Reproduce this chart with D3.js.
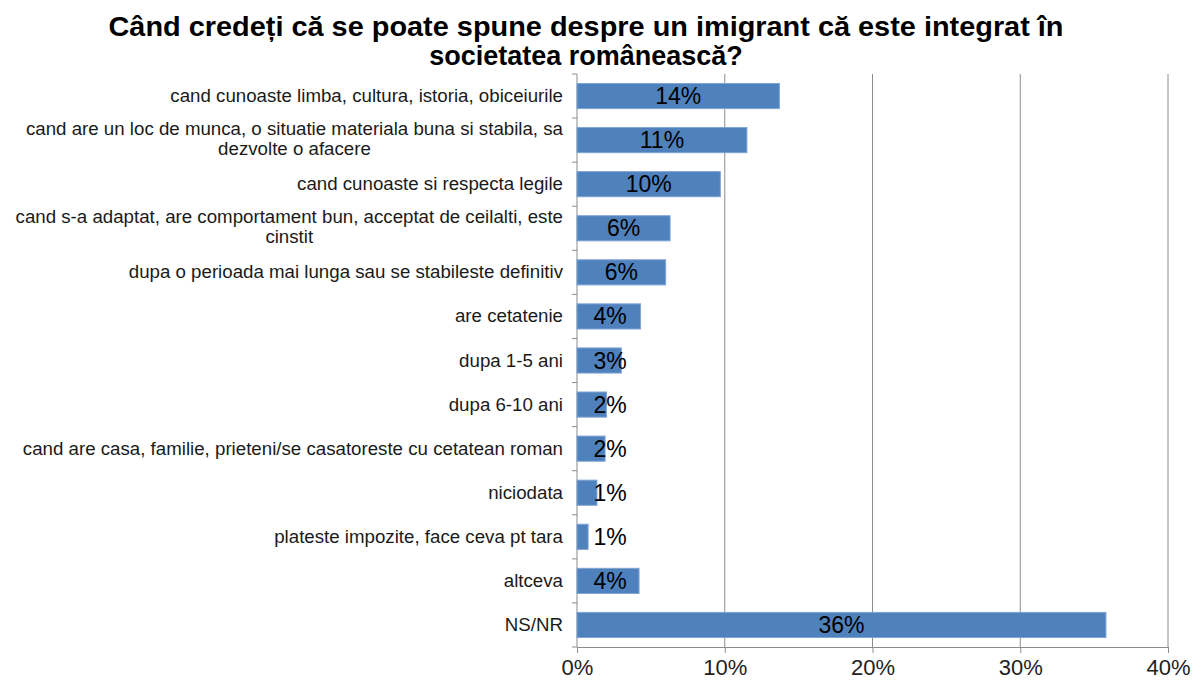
<!DOCTYPE html>
<meta charset="UTF-8">
<style>
  body { margin: 0; background: #fff; }
  text { font-family: Arial, "Liberation Sans", sans-serif; }
  .cat text { font-size: 18.7px; fill: #1a1a1a; }
  .val { font-size: 23px; fill: #000; }
  .xaxis text { font-size: 22px; fill: #222; }
</style>
<body>
<div class="chart"></div>
<script src="https://d3js.org/d3.v7.min.js"></script>
<script>
  // data
  var categories = [
    "cand cunoaste limba, cultura, istoria, obiceiurile",
    "cand are un loc de munca, o situatie materiala buna si stabila, sa dezvolte o afacere",
    "cand cunoaste si respecta legile",
    "cand s-a adaptat, are comportament bun, acceptat de ceilalti, este cinstit",
    "dupa o perioada mai lunga sau se stabileste definitiv",
    "are cetatenie",
    "dupa 1-5 ani",
    "dupa 6-10 ani",
    "cand are casa, familie, prieteni/se casatoreste cu cetatean roman",
    "niciodata",
    "plateste impozite, face ceva pt tara",
    "altceva",
    "NS/NR"
  ];
  var values = [0.137, 0.115, 0.097, 0.063, 0.060, 0.043, 0.030, 0.020, 0.019, 0.0135, 0.0075, 0.042, 0.358];
  var valueLabels = ["14%", "11%", "10%", "6%", "6%", "4%", "3%", "2%", "2%", "1%", "1%", "4%", "36%"];
  var xTicks = [0, 0.1, 0.2, 0.3, 0.4];
  var titleLines = ["Când credeți că se poate spune despre un imigrant că este integrat în", "societatea românească?"];

  var width = 1202, height = 686;
  var mLeft = 577, mRight = 1168, mTop = 74, mBottom = 647;

  var svg = d3.select(".chart").append("svg")
      .attr("width", width)
      .attr("height", height);

  var x = d3.scaleLinear().domain([0, 0.4]).range([mLeft, mRight]);
  var y = d3.scaleBand().domain(categories).range([mTop, mBottom])
      .paddingInner(0.43).paddingOuter(0.215);

  // title
  var title = svg.append("g");
  titleLines.forEach(function (t, i) {
    var tx = title.append("text")
      .attr("x", 586)
      .attr("y", 36 + i * 29)
      .attr("text-anchor", "middle")
      .style("font-size", "27px")
      .style("font-weight", "bold")
      .text(t);
    if (i == 0) {
      tx.attr("textLength", 955).attr("lengthAdjust", "spacingAndGlyphs");
    }
  });
  // second line squeezed the same way
  var l0 = title.select("text").node();
  var l1 = title.selectAll("text").nodes()[1];
  var ratio = 955 / l0.getComputedTextLength();
  l1.setAttribute("textLength", l1.getComputedTextLength() * ratio);
  l1.setAttribute("lengthAdjust", "spacingAndGlyphs");

  // gridlines
  svg.append("g").selectAll("line")
    .data(xTicks.slice(1))
    .enter().append("line")
      .attr("x1", function (d) { return x(d); })
      .attr("x2", function (d) { return x(d); })
      .attr("y1", mTop)
      .attr("y2", mBottom)
      .attr("stroke", "#8c8c8c")
      .attr("stroke-width", 1);

  // x axis
  var xAxis = svg.append("g")
      .attr("class", "xaxis")
      .attr("transform", "translate(0," + mBottom + ")")
      .call(d3.axisBottom(x).tickValues(xTicks).tickFormat(d3.format(".0%")).tickSize(6).tickPadding(6));
  xAxis.select(".domain").attr("stroke", "#8c8c8c");
  xAxis.selectAll(".tick line").attr("stroke", "#8c8c8c");
  xAxis.selectAll("text").attr("font-family", null).attr("font-size", null);

  // y axis line + ticks at category boundaries
  var step = y.step();
  var bounds = categories.map(function (c) { return y(c) - step * y.paddingInner() / 2; });
  bounds.push(mBottom);
  svg.append("line")
    .attr("x1", mLeft).attr("x2", mLeft)
    .attr("y1", mTop).attr("y2", mBottom)
    .attr("stroke", "#8c8c8c");
  svg.append("g").selectAll("line")
    .data(bounds)
    .enter().append("line")
      .attr("x1", mLeft - 5).attr("x2", mLeft)
      .attr("y1", function (d) { return d; })
      .attr("y2", function (d) { return d; })
      .attr("stroke", "#8c8c8c");

  // bars
  svg.append("g").selectAll("rect")
    .data(values)
    .enter().append("rect")
      .attr("x", x(0))
      .attr("y", function (d, i) { return y(categories[i]); })
      .attr("width", function (d) { return x(d) - x(0); })
      .attr("height", y.bandwidth())
      .attr("fill", "#4f81bd")
      .attr("stroke", "#7fa3d3")
      .attr("stroke-width", 1);

  // value labels
  svg.append("g").selectAll("text")
    .data(values)
    .enter().append("text")
      .attr("class", "val")
      .attr("text-anchor", "middle")
      .attr("x", function (d) { return Math.max((x(d) + x(0)) / 2, x(0) + 33); })
      .attr("y", function (d, i) { return y(categories[i]) + y.bandwidth() / 2 + 8; })
      .text(function (d, i) { return valueLabels[i]; });

  // category labels, wrapped
  var maxW = 552;
  var cat = svg.append("g").attr("class", "cat");
  categories.forEach(function (c) {
    var t = cat.append("text").attr("text-anchor", "middle");
    var words = c.split(" "), lines = [], line = [];
    var probe = t.append("tspan");
    words.forEach(function (w) {
      line.push(w);
      probe.text(line.join(" "));
      if (probe.node().getComputedTextLength() > maxW && line.length > 1) {
        line.pop();
        lines.push(line.join(" "));
        line = [w];
      }
    });
    lines.push(line.join(" "));
    probe.remove();
    var widest = 0;
    lines.forEach(function (l) {
      var s = t.append("tspan").text(l);
      widest = Math.max(widest, s.node().getComputedTextLength());
    });
    t.selectAll("tspan").remove();
    var cx = 563 - widest / 2;
    var cy = y(c) + y.bandwidth() / 2 + 6 - (lines.length - 1) * 11;
    lines.forEach(function (l, i) {
      t.append("tspan").attr("x", cx).attr("y", cy + i * 20).text(l);
    });
  });
</script>
</body>
